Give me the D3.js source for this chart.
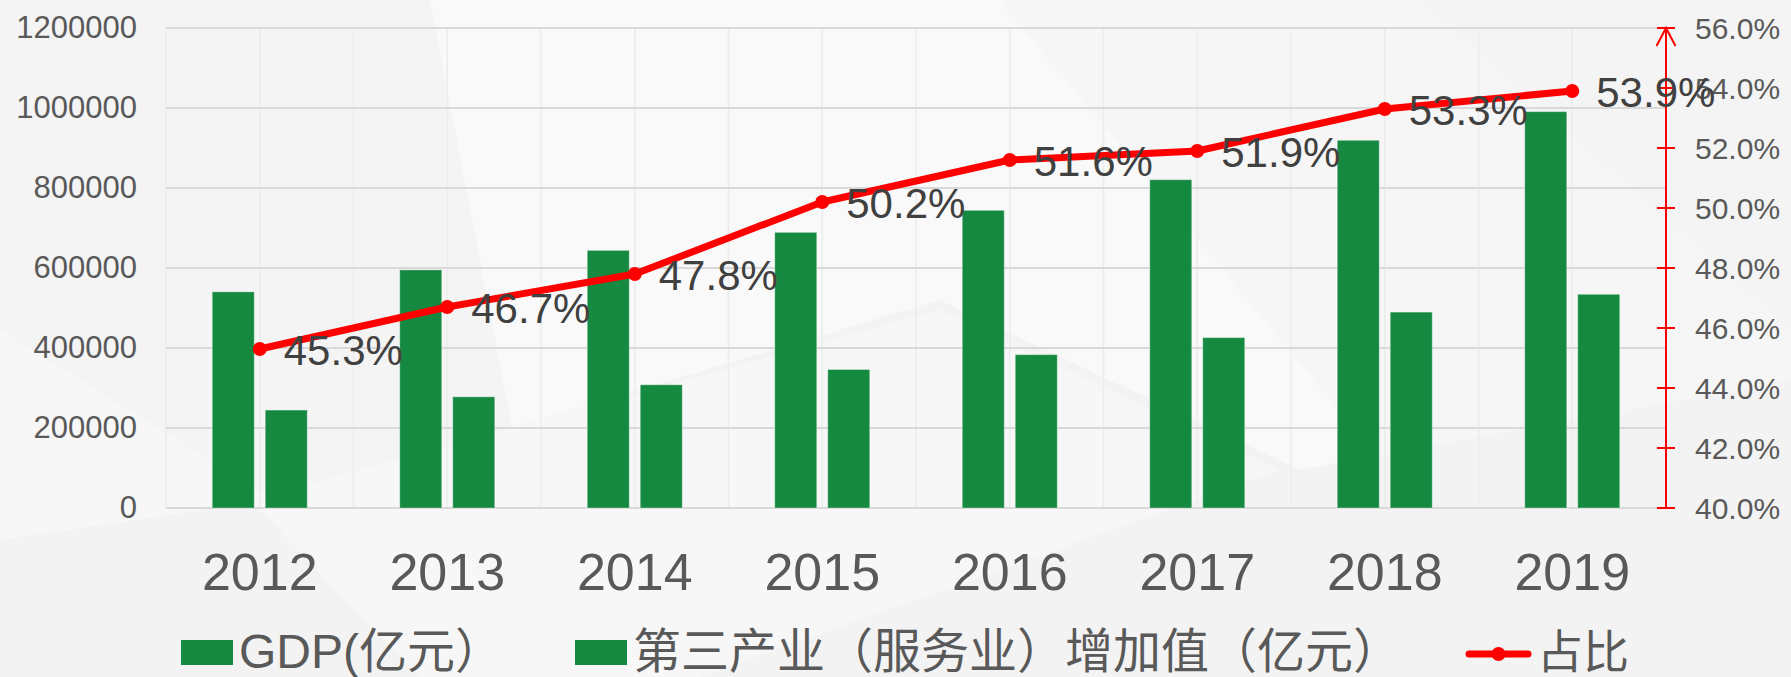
<!DOCTYPE html>
<html>
<head>
<meta charset="utf-8">
<script src="https://cdn.jsdelivr.net/npm/d3@7/dist/d3.min.js"></script>
<style>
  html, body { margin: 0; padding: 0; background: #f5f5f5; }
  svg { display: block; }
  text { font-family: "Liberation Sans", Arial, "Noto Sans CJK SC", sans-serif; }
</style>
</head>
<body>
<svg id="chart" width="1791" height="677"></svg>
<script>
// ---- data ----
const years = ["2012", "2013", "2014", "2015", "2016", "2017", "2018", "2019"];
const gdp = [540367, 595244, 643974, 689052, 744127, 820754, 919281, 990865];
const tertiary = [244852, 277959, 308058, 346178, 383374, 425912, 489701, 534233];
const share = [45.3, 46.7, 47.8, 50.2, 51.6, 51.9, 53.3, 53.9];
const leftTicks = [0, 200000, 400000, 600000, 800000, 1000000, 1200000];
const rightTicks = [40, 42, 44, 46, 48, 50, 52, 54, 56];
const seriesNames = ["GDP(亿元）", "第三产业（服务业）增加值（亿元）", "占比"];

// ---- layout ----
const W = 1791, H = 677;
const plotL = 166, plotR = 1666, plotT = 28, plotB = 508;
const green = "#158940", red = "#ff0000", axisText = "#595959", labelText = "#404040";

const svg = d3.select("#chart");

// background facets
const bg = svg.append("g");
bg.append("rect").attr("width", W).attr("height", H).attr("fill", "#f4f4f4");
const facets = [
  {pts: [[430,0],[1000,0],[1560,677],[560,677]], fill: "#f9f9f9"},
  {pts: [[1000,0],[1420,0],[1791,330],[1791,677],[1560,677]], fill: "#f6f6f6"},
  {pts: [[0,330],[560,677],[0,677]], fill: "#f7f7f7"},
  {pts: [[0,540],[270,500],[940,300],[1300,470],[1791,380],[1791,677],[0,677]], fill: "#f3f3f3"},
  {pts: [[250,500],[940,310],[1280,470],[700,677],[420,677]], fill: "#f7f7f7"}
];
bg.selectAll("polygon").data(facets).join("polygon")
  .attr("points", d => d.pts.map(p => p.join(",")).join(" "))
  .attr("fill", d => d.fill);

// scales
const x = d3.scaleBand().domain(years).range([plotL, plotR]);
const groupW = 95;
const xSub = d3.scaleBand().domain(["gdp", "tert"]).range([0, groupW]).paddingInner(0.2075);
const yL = d3.scaleLinear().domain([0, 1200000]).range([plotB, plotT]);
const yR = d3.scaleLinear().domain([40, 56]).range([plotB, plotT]);

// vertical light grid (every half band)
const halfSteps = d3.range(years.length * 2 + 1).map(i => plotL + i * x.bandwidth() / 2);
svg.append("g").selectAll("line").data(halfSteps).join("line")
  .attr("x1", d => d).attr("x2", d => d)
  .attr("y1", plotT).attr("y2", plotB)
  .attr("stroke", "#ececec").attr("stroke-width", 1.5);

// horizontal grid
svg.append("g").selectAll("line").data(leftTicks).join("line")
  .attr("x1", plotL).attr("x2", plotR)
  .attr("y1", d => yL(d)).attr("y2", d => yL(d))
  .attr("stroke", "#d9d9d9").attr("stroke-width", 2);

// left axis labels
const leftAxis = d3.axisLeft(yL).tickValues(leftTicks).tickFormat(d3.format("d")).tickSize(0).tickPadding(29);
const gL = svg.append("g").attr("transform", `translate(${plotL},0)`).call(leftAxis);
gL.select(".domain").remove();
gL.selectAll("text").attr("font-size", 31).attr("fill", axisText)
  .attr("font-family", "'Liberation Sans', Arial, sans-serif");

// bars
const rows = years.map((y, i) => ({year: y, gdp: gdp[i], tert: tertiary[i], share: share[i]}));
const gBars = svg.append("g");
["gdp", "tert"].forEach(key => {
  gBars.selectAll("rect." + key).data(rows).join("rect")
    .attr("class", key)
    .attr("x", d => x(d.year) + x.bandwidth() / 2 - groupW / 2 + xSub(key))
    .attr("width", xSub.bandwidth())
    .attr("y", d => yL(d[key]))
    .attr("height", d => plotB - yL(d[key]))
    .attr("fill", green)
    .attr("stroke", "rgba(255,255,255,0.35)").attr("stroke-width", 1);
});

// right axis (red, with crossing ticks and arrow)
const gR = svg.append("g");
gR.append("line").attr("x1", plotR).attr("x2", plotR).attr("y1", yR(40)).attr("y2", yR(56))
  .attr("stroke", red).attr("stroke-width", 2);
gR.selectAll("line.tick").data(rightTicks).join("line").attr("class", "tick")
  .attr("x1", plotR - 9).attr("x2", plotR + 9)
  .attr("y1", d => yR(d)).attr("y2", d => yR(d))
  .attr("stroke", red).attr("stroke-width", 2);
gR.append("path")
  .attr("d", `M${plotR - 9.5},${yR(56) + 18} L${plotR},${yR(56)} L${plotR + 9.5},${yR(56) + 18}`)
  .attr("fill", "none").attr("stroke", red).attr("stroke-width", 2);
gR.selectAll("text").data(rightTicks).join("text")
  .attr("x", plotR + 29).attr("y", d => yR(d)).attr("dy", "0.36em")
  .attr("font-size", 30).attr("fill", axisText)
  .text(d => d.toFixed(1) + "%");

// x labels
svg.append("g").selectAll("text").data(years).join("text")
  .attr("x", d => x(d) + x.bandwidth() / 2).attr("y", 590)
  .attr("text-anchor", "middle").attr("font-size", 52).attr("fill", axisText)
  .text(d => d);

// line
const line = d3.line().x(d => x(d.year) + x.bandwidth() / 2).y(d => yR(d.share));
svg.append("path").datum(rows).attr("d", line)
  .attr("fill", "none").attr("stroke", red).attr("stroke-width", 7)
  .attr("stroke-linejoin", "round").attr("stroke-linecap", "round");
svg.append("g").selectAll("circle").data(rows).join("circle")
  .attr("cx", d => x(d.year) + x.bandwidth() / 2).attr("cy", d => yR(d.share))
  .attr("r", 7).attr("fill", red);

// data labels
svg.append("g").selectAll("text").data(rows).join("text")
  .attr("x", d => x(d.year) + x.bandwidth() / 2 + 24).attr("y", d => yR(d.share) + 16)
  .attr("font-size", 42).attr("fill", labelText)
  .text(d => d.share.toFixed(1) + "%");

// legend
const legend = svg.append("g");
const legItems = [
  {name: seriesNames[0], x: 181, type: "rect", fs: 48},
  {name: seriesNames[1], x: 575, type: "rect", fs: 48},
  {name: seriesNames[2], x: 1469, type: "line", fs: 46}
];
legItems.forEach(it => {
  if (it.type === "rect") {
    legend.append("rect").attr("x", it.x).attr("y", 640).attr("width", 52).attr("height", 25).attr("fill", green);
    legend.append("text").attr("x", it.x + 58).attr("y", 668)
      .attr("font-size", it.fs).attr("fill", axisText).text(it.name);
  } else {
    legend.append("line").attr("x1", it.x).attr("x2", it.x + 59).attr("y1", 654).attr("y2", 654)
      .attr("stroke", red).attr("stroke-width", 7).attr("stroke-linecap", "round");
    legend.append("circle").attr("cx", it.x + 29.5).attr("cy", 654).attr("r", 7).attr("fill", red);
    legend.append("text").attr("x", it.x + 68).attr("y", 668)
      .attr("font-size", it.fs).attr("fill", axisText).text(it.name);
  }
});
</script>
</body>
</html>
